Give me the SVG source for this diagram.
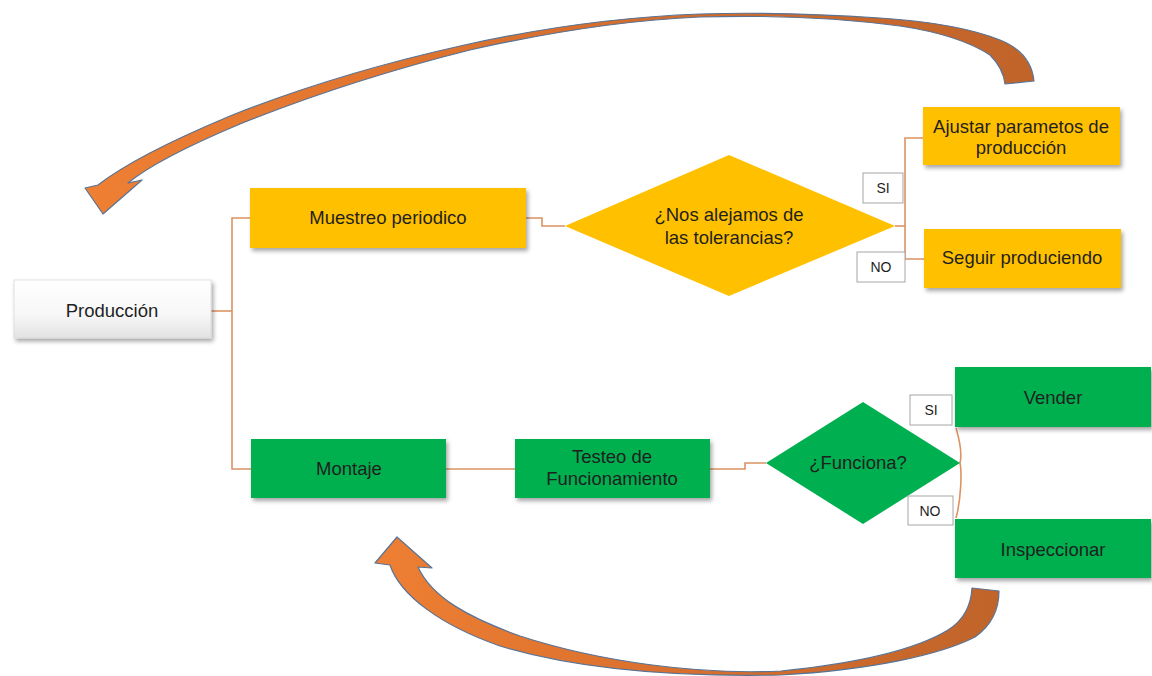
<svg xmlns="http://www.w3.org/2000/svg" width="1152" height="676" viewBox="0 0 1152 676">
<defs>
<style>
.t{font-family:"Liberation Sans",Arial,sans-serif;font-size:18.5px;fill:#1f1f1f;text-anchor:middle}
.s{font-family:"Liberation Sans",Arial,sans-serif;font-size:14px;fill:#1f1f1f;text-anchor:middle}
.y{fill:#FFC000}
.g{fill:#00B050}
.lab{fill:#fff;stroke:#a6a6a6;stroke-width:1}
.c{fill:none;stroke:#DC9363;stroke-width:1.6}
.arr{stroke:#5A7394;stroke-width:1.2;stroke-linejoin:round}
</style>
<filter id="sh" x="-10%" y="-20%" width="125%" height="150%">
<feDropShadow dx="2" dy="3" stdDeviation="2" flood-color="#000" flood-opacity="0.35"/>
</filter>
<linearGradient id="wg" x1="0" y1="0" x2="0" y2="1">
<stop offset="0" stop-color="#ffffff"/>
<stop offset="0.6" stop-color="#f7f7f7"/>
<stop offset="1" stop-color="#e2e2e2"/>
</linearGradient>
<linearGradient id="ag1" gradientUnits="userSpaceOnUse" x1="90" y1="0" x2="1035" y2="0">
<stop offset="0" stop-color="#EE7F33"/>
<stop offset="0.5" stop-color="#D86F2D"/>
<stop offset="1" stop-color="#C0642A"/>
</linearGradient>
<linearGradient id="ag2" gradientUnits="userSpaceOnUse" x1="375" y1="0" x2="1000" y2="0">
<stop offset="0" stop-color="#EE7F33"/>
<stop offset="0.5" stop-color="#D86F2D"/>
<stop offset="1" stop-color="#C0642A"/>
</linearGradient>
</defs>
<rect width="1152" height="676" fill="#fff"/>

<g id="arrow-top">
<path class="arr" fill="url(#ag1)" d="M1034,81 C1032,62 1020,48 1000,40 C975,30 940,22 880,18 C820,14 760,12 700,14 C620,17 540,28 460,46 C380,64 300,88 230,116 C180,137 130,160 98,185 L85,188 L103,214 L142,180 L128,183 C150,165 190,145 240,124 C310,96 390,70 470,50 C550,32 630,20 700,17 C770,15 840,18 900,26 C940,32 970,42 990,55 C1000,65 1004,75 1005,84 Z"/>
</g>
<g id="arrow-bottom">
<path class="arr" fill="url(#ag2)" d="M972,588 C971,605 964,620 948,630 C915,650 860,663 781,671 C700,675 600,662 520,636 C470,618 432,598 418,567 L432,568 L397,537 L375,563 L390,565 C400,595 440,625 500,646 C580,670 680,677 781,675 C870,670 940,655 975,637 C992,625 999,608 999,591 Z"/>
</g>

<g id="connectors">
<path class="c" d="M211,311 H232"/>
<path class="c" d="M250,218 H232 V469 H253"/>
<path class="c" d="M526,218 H542 V226 H565"/>
<path class="c" d="M895,226 H905"/>
<path class="c" d="M923,138 H905 V259 H925"/>
<path class="c" d="M446,469 H515"/>
<path class="c" d="M710,469 H745 V463 H766"/>
<path class="c" d="M956,428 C961,445 962,455 960,463 C962,472 961,500 956,518"/>
</g>

<g id="produccion">
<rect x="14" y="280" width="197" height="58" fill="url(#wg)" stroke="#d9d9d9" stroke-width="0.8" filter="url(#sh)"/>
<text class="t" x="112" y="317">Producción</text>
</g>
<g id="muestreo">
<rect class="y" x="250" y="188" width="276" height="60" filter="url(#sh)"/>
<text class="t" x="388" y="224">Muestreo periodico</text>
</g>
<g id="decision1">
<polygon class="y" points="565,226 729,155 895,226 729,296"/>
<text class="t" x="729" y="221">¿Nos alejamos de</text>
<text class="t" x="729" y="244">las tolerancias?</text>
</g>
<g id="label-si-1">
<rect class="lab" x="863" y="173" width="40" height="30"/>
<text class="s" x="883" y="193">SI</text>
</g>
<g id="label-no-1">
<rect class="lab" x="857" y="252" width="48" height="30"/>
<text class="s" x="881" y="272">NO</text>
</g>
<g id="ajustar">
<rect class="y" x="923" y="107" width="197" height="58" filter="url(#sh)"/>
<text class="t" x="1021" y="133">Ajustar parametos de</text>
<text class="t" x="1021" y="154">producción</text>
</g>
<g id="seguir">
<rect class="y" x="924" y="229" width="197" height="59" filter="url(#sh)"/>
<text class="t" x="1022" y="264">Seguir produciendo</text>
</g>
<g id="montaje">
<rect class="g" x="251" y="439" width="195" height="59" filter="url(#sh)"/>
<text class="t" x="349" y="475">Montaje</text>
</g>
<g id="testeo">
<rect class="g" x="515" y="439" width="195" height="59" filter="url(#sh)"/>
<text class="t" x="612" y="463">Testeo de</text>
<text class="t" x="612" y="485">Funcionamiento</text>
</g>
<g id="decision2">
<polygon class="g" points="766,463 863,402 960,463 863,524"/>
<text class="t" x="858" y="469">¿Funciona?</text>
</g>
<g id="label-si-2">
<rect class="lab" x="910" y="395" width="42" height="30"/>
<text class="s" x="931" y="415">SI</text>
</g>
<g id="label-no-2">
<rect class="lab" x="908" y="496" width="45" height="29"/>
<text class="s" x="930" y="516">NO</text>
</g>
<g id="vender">
<rect class="g" x="955" y="367" width="196" height="60" filter="url(#sh)"/>
<text class="t" x="1053" y="404">Vender</text>
</g>
<g id="inspeccionar">
<rect class="g" x="955" y="519" width="196" height="59" filter="url(#sh)"/>
<text class="t" x="1053" y="556">Inspeccionar</text>
</g>
</svg>
